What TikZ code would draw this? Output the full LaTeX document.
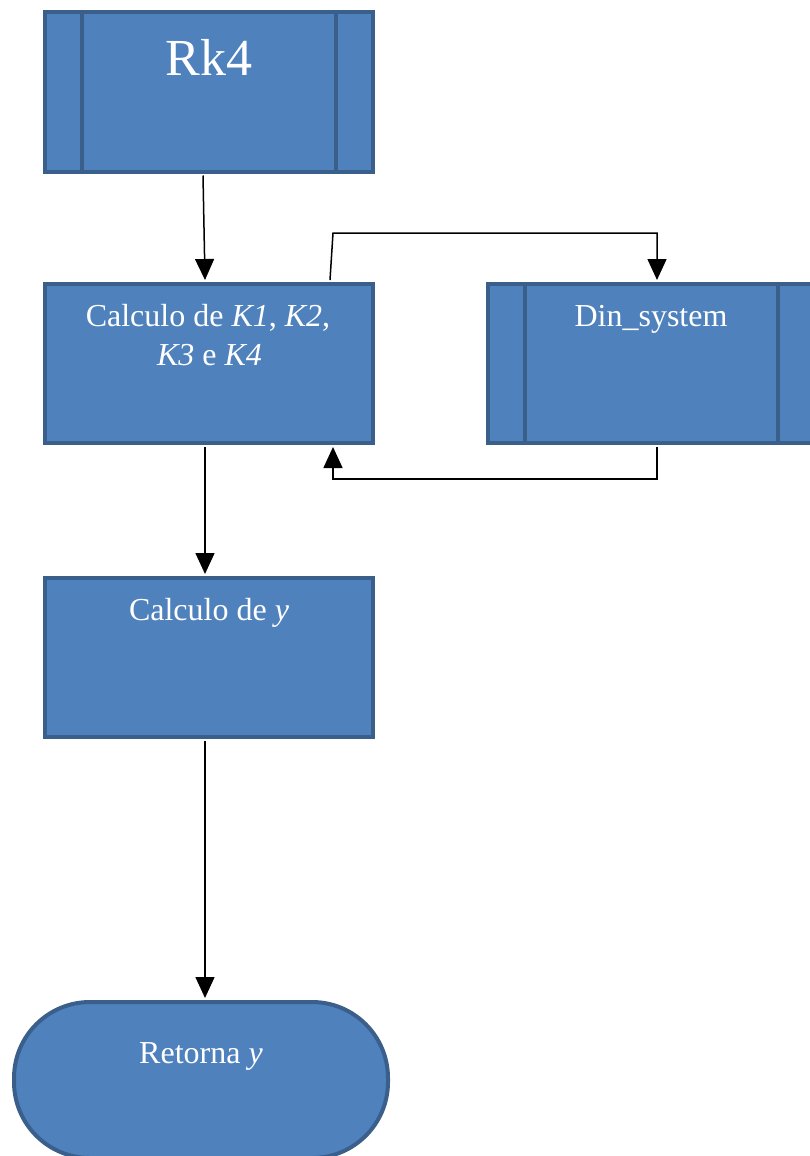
\documentclass[tikz,border=0pt]{standalone}
\usepackage{fontspec}
\setmainfont{Liberation Serif}
\usetikzlibrary{arrows.meta,calc}
\definecolor{boxfill}{HTML}{4F81BD}
\definecolor{boxline}{HTML}{3A5F8B}
\begin{document}
\begin{tikzpicture}[x=1pt,y=-1pt,
  box/.style={draw=boxline, fill=boxfill, line width=4pt, minimum width=328pt, minimum height=159pt, inner sep=0pt},
  term/.style={draw=boxline, fill=boxfill, line width=4pt, minimum width=374pt, minimum height=156pt, inner sep=0pt, rounded corners=76pt},
  divider/.style={draw=boxline, line width=3.5pt},
  txt/.style={text=white, inner sep=0pt, font=\fontsize{32}{38}\selectfont, anchor=base},
  arr/.style={draw=black, line width=1.5pt, -{Triangle[width=19pt,length=21pt]}}]
\useasboundingbox (0,0) rectangle (810,1156);
% boxes
\node[box] (rk4) at (209,92) {};
\node[box] (calc) at (209,363.5) {};
\node[box] (din) at (652,363.5) {};
\node[box] (calcy) at (209,657.5) {};
\node[term] (ret) at (201,1080) {};
% dividers of predefined processes
\draw[divider] ($(rk4.north west)+(39,0)$) -- ($(rk4.south west)+(39,0)$);
\draw[divider] ($(rk4.north east)+(-39,0)$) -- ($(rk4.south east)+(-39,0)$);
\draw[divider] ($(din.north west)+(39,0)$) -- ($(din.south west)+(39,0)$);
\draw[divider] ($(din.north east)+(-40,0)$) -- ($(din.south east)+(-40,0)$);
% texts
\node[txt, font=\fontsize{52}{60}\selectfont] (rk4t) at (209,75) {Rk4};
\node[txt] (calct1) at (208,326) {Calculo de \textit{K1}, \textit{K2},};
\node[txt] (calct2) at (209.5,365) {\textit{K3} e \textit{K4}};
\node[txt] (dint) at (651,326) {Din\_system};
\node[txt] (calcyt) at (209,620) {Calculo de \textit{y}};
\node[txt] (rett) at (201,1063) {Retorna \textit{y}};
% corner coordinates
\coordinate (c1) at (333,233);
\coordinate (c2) at (333,479);
% connectors
\draw[arr] ($(rk4.south)+(-6,2)$) -- ($(calc.north)+(-4,-2)$);
\draw[arr] ($(calc.north)+(121,-2)$) -- (c1) -| ($(din.north)+(5,-2)$);
\draw[arr] ($(din.south)+(5,2)$) |- (c2) -- ($(calc.south)+(124,2)$);
\draw[arr] ($(calc.south)+(-4,2)$) -- ($(calcy.north)+(-4,-2)$);
\draw[arr] ($(calcy.south)+(-4,2)$) -- ($(ret.north)+(4,-2)$);
\end{tikzpicture}
\end{document}
